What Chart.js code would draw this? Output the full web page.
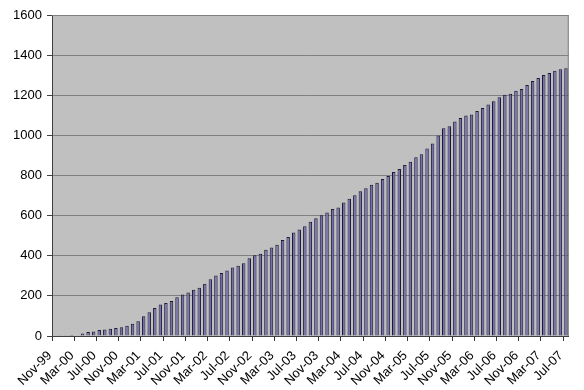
<!DOCTYPE html>
<html>
<head>
<meta charset="utf-8">
<script src="https://cdn.jsdelivr.net/npm/chart.js@4/dist/chart.umd.min.js"></script>
<style>
  body { margin: 0; background: #fff; }
  #wrap { width: 584px; height: 390px; position: relative; }
</style>
</head>
<body>
<div id="wrap"><canvas id="chart"></canvas></div>
<script>
// monthly categories, Nov-99 .. Jul-07
const months = [
    'Nov-99', 'Dec-99',
    'Jan-00', 'Feb-00', 'Mar-00', 'Apr-00', 'May-00', 'Jun-00', 'Jul-00', 'Aug-00', 'Sep-00', 'Oct-00', 'Nov-00', 'Dec-00',
    'Jan-01', 'Feb-01', 'Mar-01', 'Apr-01', 'May-01', 'Jun-01', 'Jul-01', 'Aug-01', 'Sep-01', 'Oct-01', 'Nov-01', 'Dec-01',
    'Jan-02', 'Feb-02', 'Mar-02', 'Apr-02', 'May-02', 'Jun-02', 'Jul-02', 'Aug-02', 'Sep-02', 'Oct-02', 'Nov-02', 'Dec-02',
    'Jan-03', 'Feb-03', 'Mar-03', 'Apr-03', 'May-03', 'Jun-03', 'Jul-03', 'Aug-03', 'Sep-03', 'Oct-03', 'Nov-03', 'Dec-03',
    'Jan-04', 'Feb-04', 'Mar-04', 'Apr-04', 'May-04', 'Jun-04', 'Jul-04', 'Aug-04', 'Sep-04', 'Oct-04', 'Nov-04', 'Dec-04',
    'Jan-05', 'Feb-05', 'Mar-05', 'Apr-05', 'May-05', 'Jun-05', 'Jul-05', 'Aug-05', 'Sep-05', 'Oct-05', 'Nov-05', 'Dec-05',
    'Jan-06', 'Feb-06', 'Mar-06', 'Apr-06', 'May-06', 'Jun-06', 'Jul-06', 'Aug-06', 'Sep-06', 'Oct-06', 'Nov-06', 'Dec-06',
    'Jan-07', 'Feb-07', 'Mar-07', 'Apr-07', 'May-07', 'Jun-07', 'Jul-07'
];

// cumulative totals per month
const totals = [
    3, 4,
    4, 5, 0, 13, 20, 23, 30, 33, 36, 40, 43, 51,
    61, 74, 98, 119, 140, 157, 165, 175, 193, 207, 217, 230,
    240, 260, 283, 302, 314, 326, 342, 350, 362, 387, 403, 410,
    430, 441, 455, 478, 493, 516, 531, 547, 569, 587, 602, 615,
    633, 640, 666, 684, 702, 721, 736, 754, 764, 782, 798, 818,
    833, 852, 868, 891, 906, 934, 959, 1000, 1035, 1045, 1069, 1086,
    1099, 1104, 1121, 1136, 1154, 1170, 1190, 1203, 1207, 1223, 1231, 1251,
    1271, 1286, 1301, 1311, 1322, 1329, 1334
];

const yTicks = [0, 200, 400, 600, 800, 1000, 1200, 1400, 1600];
const labelEvery = 4;
const axisFont = { family: 'Liberation Sans, Arial, sans-serif', size: 13 };

// grey plot area with a border, like the old spreadsheet chart
const plotBackground = {
    id: 'plotBackground',
    beforeDraw(chart) {
        const { ctx, chartArea: a } = chart;
        ctx.save();
        ctx.fillStyle = '#c0c0c0';
        ctx.fillRect(a.left, a.top, a.right - a.left, a.bottom - a.top);
        ctx.restore();
    },
    afterDraw(chart) {
        const { ctx, chartArea: a } = chart;
        ctx.save();
        ctx.strokeStyle = '#808080';
        ctx.lineWidth = 1;
        ctx.beginPath();
        ctx.moveTo(a.left, a.top + 0.5);
        ctx.lineTo(a.right - 0.5, a.top + 0.5);
        ctx.lineTo(a.right - 0.5, a.bottom);
        ctx.stroke();
        ctx.restore();
    }
};

// tick mark only between every 4th category
const tickMarkColor = (c) => (c.index % labelEvery === 0 ? '#333333' : 'rgba(0,0,0,0)');

const ctx = document.getElementById('chart').getContext('2d');
new Chart(ctx, {
    type: 'bar',
    data: {
        labels: months,
        datasets: [{
            data: totals,
            backgroundColor: '#7470b0',
            borderColor: '#1c1833',
            borderWidth: 1,
            barPercentage: 0.62,
            categoryPercentage: 1.0
        }]
    },
    options: {
        responsive: true,
        maintainAspectRatio: false,
        animation: false,
        layout: { padding: { top: 15, right: 1, left: 0, bottom: 0 } },
        plugins: {
            legend: { display: false },
            tooltip: { enabled: false }
        },
        scales: {
            x: {
                offset: true,
                grid: {
                    offset: true,
                    drawOnChartArea: false,
                    drawTicks: true,
                    tickLength: 5,
                    tickWidth: 1,
                    color: tickMarkColor,
                    tickColor: tickMarkColor
                },
                border: { display: true, color: '#404040' },
                ticks: {
                    autoSkip: false,
                    minRotation: 45,
                    maxRotation: 45,
                    padding: 7,
                    labelOffset: -5,
                    color: '#000',
                    font: axisFont,
                    callback: function(value, index) {
                        return index % labelEvery === 0 ? months[index] : '';
                    }
                },
                afterFit: (scale) => { scale.height = 54; }
            },
            y: {
                min: yTicks[0],
                max: yTicks[yTicks.length - 1],
                afterBuildTicks: (scale) => { scale.ticks = yTicks.map(v => ({ value: v })); },
                grid: {
                    color: '#808080',
                    lineWidth: 1,
                    drawTicks: true,
                    tickLength: 5,
                    tickColor: '#404040'
                },
                border: { display: true, color: '#404040' },
                ticks: {
                    padding: 5,
                    color: '#000',
                    font: axisFont,
                    callback: (value) => String(value)
                },
                afterFit: (scale) => { scale.width = 52; }
            }
        }
    },
    plugins: [plotBackground]
});
</script>
</body>
</html>
